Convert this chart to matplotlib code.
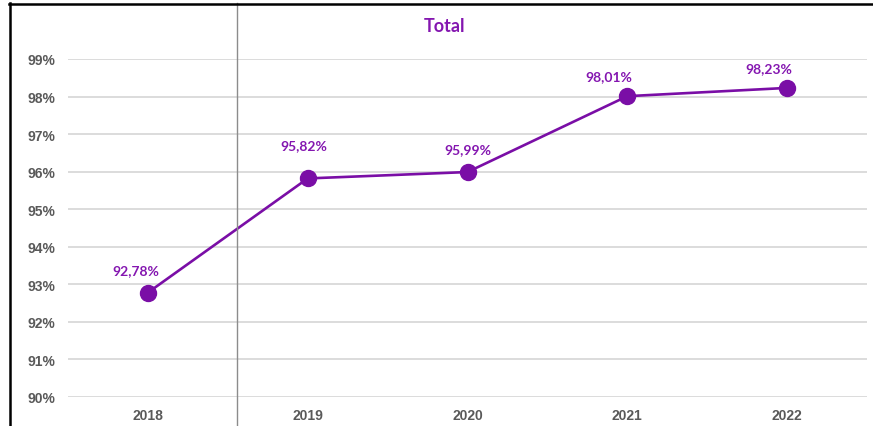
import matplotlib
matplotlib.use("Agg")
import matplotlib.pyplot as plt
from matplotlib.lines import Line2D

years = ["2018", "2019", "2020", "2021", "2022"]
values = [92.78, 95.82, 95.99, 98.01, 98.23]
labels = ["92,78%", "95,82%", "95,99%", "98,01%", "98,23%"]
# label offsets in points (dx, dy) relative to each marker
label_offsets = [(-9, 16.5), (-3, 24), (0, 16.5), (-13, 14.5), (-13, 14.5)]
yticks = list(range(90, 100))

purple = "#7a0ea6"
label_purple = "#8416b0"
grey_txt = "#595959"

fig = plt.figure(figsize=(8.73, 4.27), dpi=100)
ax = fig.add_axes([68 / 873, 1 - 398 / 427, (867 - 68) / 873, (398 - 60) / 427])

x = list(range(len(years)))
ax.plot(x, values, color=purple, lw=1.9, marker="o", ms=11.5,
        markerfacecolor=purple, markeredgecolor=purple, zorder=3, clip_on=False)

for xi, v, lab, (dx, dy) in zip(x, values, labels, label_offsets):
    ax.annotate(lab, (xi, v), xytext=(dx, dy), textcoords="offset points",
                ha="center", va="center", color=label_purple, fontsize=10,
                fontweight="bold", family=["Lato", "DejaVu Sans"])

ax.set_xlim(-0.5, len(years) - 0.5)
ax.set_ylim(90, 99)
ax.set_yticks(yticks)
ax.set_yticklabels([f"{t}%" for t in yticks])
ax.set_xticks(x)
ax.set_xticklabels(years)
ax.grid(axis="y", color="#d9d9d9", lw=1.3)
ax.set_axisbelow(True)
for s in ax.spines.values():
    s.set_visible(False)
ax.tick_params(length=0, colors=grey_txt, labelsize=10)
ax.tick_params(axis="y", pad=9)
ax.tick_params(axis="x", pad=8)
for t in ax.get_xticklabels() + ax.get_yticklabels():
    t.set_fontweight("bold")
    t.set_family(["Liberation Sans", "DejaVu Sans"])

fig.text(445 / 873, 1 - 27 / 427, "Total", ha="center", va="center",
         color=label_purple, fontsize=13, fontweight="bold", family=["Lato", "DejaVu Sans"])

# screenshot frame lines
fig.add_artist(Line2D([237 / 873, 237 / 873], [0, 1 - 4 / 427], color="#8c8c8c", lw=1))
fig.add_artist(Line2D([9 / 873, 1], [1 - 4.5 / 427, 1 - 4.5 / 427], color="black", lw=1.8))
fig.add_artist(Line2D([9.5 / 873, 9.5 / 873], [0, 1 - 4 / 427], color="black", lw=1.8))

fig.savefig("out.png", dpi=100)
